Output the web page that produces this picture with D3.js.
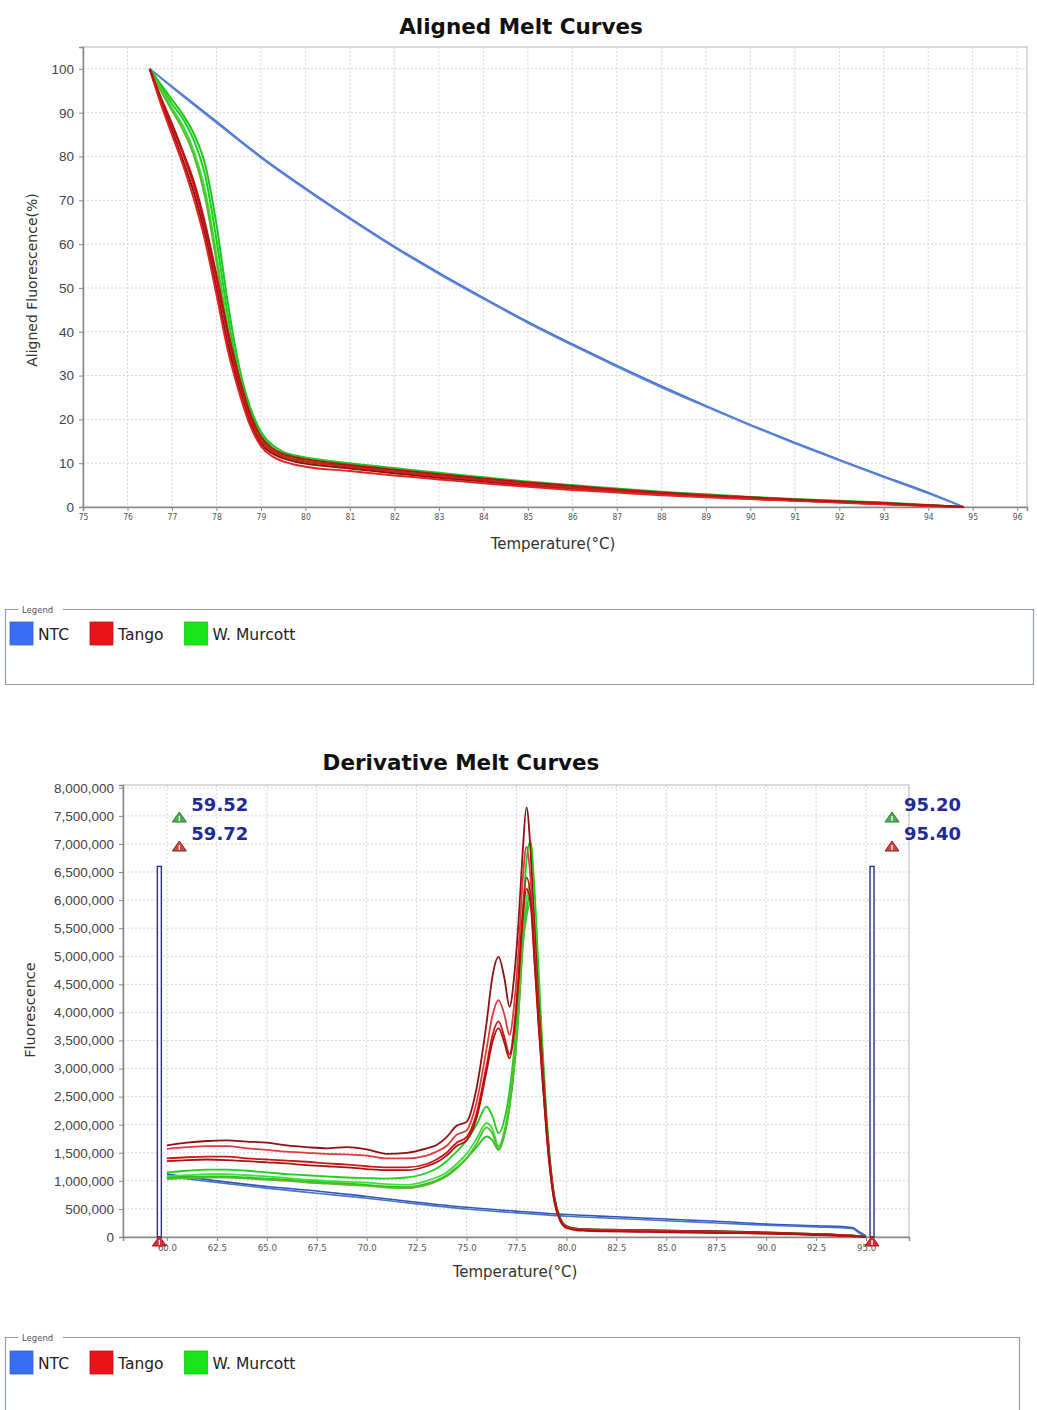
<!DOCTYPE html>
<html><head><meta charset="utf-8">
<script src="https://cdn.jsdelivr.net/npm/d3@7"></script>
<style>
body{margin:0;background:#fff;}
svg{display:block;font-family:"DejaVu Sans",Verdana,sans-serif;}
.grid line{stroke:#d6d6d6;stroke-dasharray:2,2;stroke-width:1;}
</style></head><body>
<svg id="c" width="1037" height="1410"></svg>
<script>
// ---------- Aligned melt curves (fluorescence %, per replicate) ----------
const alignedNtcTemps = [76.5, 77, 78, 79, 80, 81, 82, 83, 84, 85, 86, 87, 88, 89, 90, 91, 92, 93, 94, 94.8];
const alignedNtc = [
  [100, 96, 88, 80, 72.8, 66, 59.5, 53.5, 47.8, 42.3, 37.2, 32.3, 27.6, 23.1, 18.8, 14.7, 10.8, 7.0, 3.3, 0],
  [100, 95.8, 87.7, 79.7, 72.5, 65.7, 59.2, 53.2, 47.5, 42.0, 36.9, 32.0, 27.3, 22.9, 18.6, 14.5, 10.6, 6.8, 3.1, 0]
];
const alignedTemps = [76.5, 76.75, 77, 77.25, 77.5, 77.75, 78, 78.25, 78.5, 78.75, 79, 79.25, 79.5, 79.75, 80,
  81, 82, 83, 84, 85, 86, 87, 88, 89, 90, 91, 92, 93, 94, 94.5, 94.8];
const alignedTango = [
  [100, 92.5, 86, 79, 71.5, 62, 50, 37.5, 27.5, 19.5, 14.5, 12.3, 11.1, 10.4, 9.9, 8.8, 7.7, 6.7, 5.8, 4.9, 4.2, 3.5, 2.9, 2.4, 1.9, 1.5, 1.1, 0.7, 0.3, 0.12, 0],
  [100, 93, 87, 80.5, 73, 63.5, 52, 39.5, 29, 20.5, 15.2, 12.8, 11.6, 10.9, 10.4, 9.2, 8.1, 7.1, 6.1, 5.2, 4.4, 3.7, 3.1, 2.5, 2.0, 1.6, 1.2, 0.8, 0.35, 0.15, 0],
  [100, 92, 85, 78, 70, 60.5, 48.5, 36, 26.5, 18.8, 13.9, 11.6, 10.4, 9.7, 9.2, 8.2, 7.2, 6.3, 5.4, 4.6, 3.9, 3.3, 2.7, 2.2, 1.8, 1.4, 1.0, 0.6, 0.25, 0.1, 0],
  [100, 93.5, 87.5, 81, 74, 64.5, 53, 40.5, 30, 21.5, 16, 13.4, 12.1, 11.4, 10.9, 9.6, 8.5, 7.5, 6.5, 5.6, 4.8, 4.0, 3.3, 2.7, 2.2, 1.7, 1.3, 0.9, 0.4, 0.15, 0]
];
const alignedMurcott = [
  [100, 96, 92, 88.5, 83.5, 75.5, 61, 44, 30.5, 22, 16.5, 13.6, 12.0, 11.3, 10.8, 9.6, 8.5, 7.5, 6.5, 5.6, 4.8, 4.0, 3.3, 2.7, 2.2, 1.7, 1.3, 0.9, 0.4, 0.15, 0],
  [100, 95.5, 91, 87, 81, 72, 57.5, 41.5, 29, 21, 15.8, 13.1, 11.6, 10.9, 10.4, 9.2, 8.1, 7.1, 6.2, 5.3, 4.5, 3.8, 3.1, 2.6, 2.1, 1.6, 1.2, 0.8, 0.35, 0.12, 0],
  [100, 96.5, 93, 89.5, 85, 78, 64.5, 47, 32.5, 23, 17.2, 14.2, 12.6, 11.8, 11.3, 10.0, 8.9, 7.8, 6.8, 5.8, 5.0, 4.2, 3.5, 2.9, 2.3, 1.8, 1.4, 1.0, 0.45, 0.18, 0],
  [100, 95, 90.5, 86, 80, 70.5, 56, 40, 28, 20.2, 15.3, 12.7, 11.3, 10.6, 10.1, 8.9, 7.9, 6.9, 6.0, 5.1, 4.3, 3.6, 3.0, 2.4, 1.9, 1.5, 1.1, 0.7, 0.3, 0.1, 0]
];
const alignedXTicks = d3.range(75, 97, 1);
const alignedYTicks = [0, 10, 20, 30, 40, 50, 60, 70, 80, 90, 100];

// ---------- Derivative melt curves (fluorescence, millions) ----------
const derivTemps = [60, 61, 62, 63, 64, 65, 66, 67, 68, 69, 70, 71, 72, 73, 73.5, 74, 74.5, 75, 75.5, 76,
  76.3, 76.6, 76.9, 77.15, 77.4, 77.6, 77.8, 78.0, 78.2, 78.4, 78.6, 78.8, 79.0, 79.2, 79.4, 79.7, 80.0,
  80.5, 81, 82, 84, 86, 88, 90, 92, 93, 94, 94.5, 95];
const derivTango = [
  [1.63, 1.68, 1.71, 1.72, 1.70, 1.68, 1.63, 1.60, 1.58, 1.60, 1.56, 1.48, 1.50, 1.58, 1.64, 1.78, 1.98, 2.05, 2.65, 3.81,
   4.65, 4.99, 4.60, 4.10, 4.70, 5.60, 6.80, 7.65, 6.90, 5.50, 4.20, 3.10, 2.05, 1.25, 0.70, 0.32, 0.19,
   0.15, 0.14, 0.13, 0.12, 0.11, 0.10, 0.08, 0.06, 0.05, 0.03, 0.02, 0.0],
  [1.57, 1.60, 1.62, 1.62, 1.58, 1.55, 1.52, 1.50, 1.48, 1.47, 1.45, 1.40, 1.40, 1.45, 1.52, 1.62, 1.82, 1.90, 2.40, 3.35,
   3.95, 4.22, 3.95, 3.60, 4.20, 5.10, 6.30, 6.95, 6.40, 5.20, 4.00, 2.95, 1.95, 1.20, 0.66, 0.30, 0.18,
   0.14, 0.13, 0.12, 0.11, 0.10, 0.09, 0.07, 0.05, 0.04, 0.03, 0.02, 0.0],
  [1.40, 1.42, 1.43, 1.43, 1.40, 1.38, 1.36, 1.34, 1.31, 1.29, 1.26, 1.24, 1.24, 1.30, 1.38, 1.50, 1.68, 1.78, 2.20, 3.05,
   3.60, 3.84, 3.55, 3.25, 3.80, 4.65, 5.75, 6.40, 6.10, 5.00, 3.85, 2.85, 1.90, 1.15, 0.63, 0.29, 0.17,
   0.13, 0.12, 0.11, 0.10, 0.09, 0.08, 0.07, 0.05, 0.04, 0.02, 0.01, 0.0],
  [1.35, 1.37, 1.38, 1.37, 1.35, 1.33, 1.31, 1.28, 1.26, 1.24, 1.21, 1.19, 1.19, 1.26, 1.33, 1.45, 1.62, 1.72, 2.12, 2.95,
   3.48, 3.72, 3.45, 3.18, 3.70, 4.55, 5.60, 6.20, 5.95, 4.90, 3.80, 2.80, 1.86, 1.12, 0.62, 0.28, 0.16,
   0.12, 0.11, 0.10, 0.09, 0.08, 0.07, 0.06, 0.04, 0.03, 0.02, 0.01, 0.0]
];
const derivMurcott = [
  [1.15, 1.18, 1.20, 1.20, 1.18, 1.15, 1.12, 1.10, 1.08, 1.06, 1.05, 1.04, 1.06, 1.14, 1.22, 1.35, 1.52, 1.72, 2.00, 2.32,
   2.15, 1.85, 2.10, 2.60, 3.40, 4.30, 5.60, 6.70, 7.05, 6.20, 4.80, 3.40, 2.20, 1.30, 0.72, 0.33, 0.20,
   0.15, 0.14, 0.13, 0.12, 0.11, 0.10, 0.08, 0.06, 0.05, 0.03, 0.02, 0.0],
  [1.08, 1.10, 1.12, 1.12, 1.10, 1.08, 1.05, 1.02, 1.00, 0.98, 0.97, 0.94, 0.93, 1.00, 1.06, 1.15, 1.30, 1.48, 1.75, 2.03,
   1.92, 1.62, 1.90, 2.40, 3.15, 4.05, 5.25, 6.00, 6.30, 5.70, 4.50, 3.20, 2.10, 1.25, 0.70, 0.32, 0.19,
   0.14, 0.13, 0.12, 0.11, 0.10, 0.09, 0.07, 0.05, 0.04, 0.03, 0.02, 0.0],
  [1.05, 1.07, 1.08, 1.08, 1.06, 1.04, 1.02, 0.99, 0.97, 0.95, 0.93, 0.90, 0.89, 0.95, 1.01, 1.10, 1.24, 1.40, 1.60, 1.79,
   1.72, 1.55, 1.82, 2.30, 3.05, 3.95, 5.10, 5.80, 6.10, 5.55, 4.40, 3.15, 2.05, 1.22, 0.68, 0.31, 0.18,
   0.14, 0.13, 0.12, 0.11, 0.10, 0.09, 0.07, 0.05, 0.04, 0.03, 0.02, 0.0],
  [1.03, 1.05, 1.06, 1.06, 1.04, 1.02, 1.00, 0.97, 0.95, 0.93, 0.91, 0.88, 0.87, 0.93, 0.99, 1.08, 1.22, 1.40, 1.66, 1.95,
   1.84, 1.58, 1.85, 2.35, 3.10, 4.00, 5.15, 5.70, 5.95, 5.45, 4.35, 3.12, 2.02, 1.20, 0.67, 0.30, 0.18,
   0.13, 0.12, 0.11, 0.10, 0.09, 0.08, 0.06, 0.05, 0.04, 0.02, 0.01, 0.0]
];
const derivNtcTemps = [60, 62.5, 65, 67.5, 70, 72.5, 75, 77.5, 80, 82.5, 85, 87.5, 90, 92.5, 94.3, 94.7, 95.0];
const derivNtc = [
  [1.12, 1.00, 0.90, 0.82, 0.72, 0.62, 0.53, 0.46, 0.40, 0.36, 0.32, 0.28, 0.23, 0.20, 0.17, 0.08, 0.02],
  [1.08, 0.97, 0.87, 0.78, 0.69, 0.59, 0.50, 0.43, 0.37, 0.33, 0.29, 0.25, 0.21, 0.18, 0.15, 0.06, 0.01]
];
const derivXTicks = [60, 62.5, 65, 67.5, 70, 72.5, 75, 77.5, 80, 82.5, 85, 87.5, 90, 92.5, 95];
const derivYTicks = d3.range(0, 8.5, 0.5);
const markerStart = [59.52, 59.72];
const markerEnd = [95.20, 95.40];
const markerTop = 6.6;

const legendNames = ["NTC", "Tango", "W. Murcott"];
const legendColors = ["#3a6ff5", "#e8141a", "#18e418"];

const svg = d3.select("#c");

function drawAxes(x, y, xTicks, yTicks, xFmt, yFmt, xFont, yFont) {
  const [x0, x1] = x.range(), [y0, y1] = y.range();
  const g = svg.append("g");
  g.append("g").attr("class", "grid").selectAll("line").data(xTicks).join("line")
    .attr("x1", d => x(d)).attr("x2", d => x(d)).attr("y1", y1).attr("y2", y0);
  g.append("g").attr("class", "grid").selectAll("line").data(yTicks).join("line")
    .attr("x1", x0).attr("x2", x1).attr("y1", d => y(d)).attr("y2", d => y(d));
  g.append("rect").attr("x", x0).attr("y", y1).attr("width", x1 - x0).attr("height", y0 - y1)
    .attr("fill", "none").attr("stroke", "#b8b8b8");
  const ax = g.append("g").attr("transform", `translate(0,${y0})`)
    .call(d3.axisBottom(x).tickValues(xTicks).tickFormat(xFmt).tickSize(4).tickPadding(3));
  ax.selectAll("text").attr("font-size", xFont).attr("fill", "#555")
    .attr("font-family", "'DejaVu Sans Condensed','DejaVu Sans',sans-serif");
  const ay = g.append("g").attr("transform", `translate(${x0},0)`)
    .call(d3.axisLeft(y).tickValues(yTicks).tickFormat(yFmt).tickSize(4).tickPadding(5));
  ay.selectAll("text").attr("font-size", yFont).attr("fill", "#444");
  [ax, ay].forEach(a => {
    a.select(".domain").attr("stroke", "#8a8a8a").attr("stroke-width", 1.5);
    a.selectAll(".tick line").attr("stroke", "#8a8a8a");
  });
  return g;
}

function drawLines(x, y, temps, series, colors, width) {
  const line = d3.line().x((d, i) => x(temps[i])).y(d => y(d)).curve(d3.curveMonotoneX);
  svg.append("g").selectAll("path").data(series).join("path")
    .attr("d", line).attr("fill", "none")
    .attr("stroke", (d, i) => colors[i % colors.length])
    .attr("stroke-width", width).attr("stroke-linejoin", "round");
}

function drawLegend(x0, y0, x1, y1, swY) {
  const g = svg.append("g");
  g.append("path")
    .attr("d", `M18,${y0} H${x0} V${y1} H${x1} V${y0} H63`)
    .attr("fill", "none").attr("stroke", "#8e9aa6").attr("stroke-width", 1.2);
  g.append("text").attr("x", 22).attr("y", y0 + 3).attr("font-size", 8.5).attr("fill", "#4a5560").text("Legend");
  let cx = 10;
  legendNames.forEach((name, i) => {
    g.append("rect").attr("x", cx).attr("y", swY).attr("width", 23).attr("height", 23)
      .attr("fill", legendColors[i]).attr("stroke", d3.color(legendColors[i]).darker(0.4)).attr("stroke-width", 0.8);
    const t = g.append("text").attr("x", cx + 28).attr("y", swY + 18).attr("font-size", 15.5)
      .attr("fill", "#222").text(name);
    cx = cx + 28 + t.node().getComputedTextLength() + 21;
  });
}

// ---------- Top: aligned melt curves ----------
const xA = d3.scaleLinear().domain([75, 96.22]).range([83, 1027]);
const yA = d3.scaleLinear().domain([0, 105]).range([507, 47]);
drawAxes(xA, yA, alignedXTicks, alignedYTicks, d3.format("d"), d3.format("d"), 8.5, 13.5);
svg.append("text").attr("x", 521).attr("y", 34).attr("text-anchor", "middle")
  .attr("font-size", 21.5).attr("font-weight", "bold").attr("fill", "#111").text("Aligned Melt Curves");
svg.append("text").attr("x", 553).attr("y", 549).attr("text-anchor", "middle")
  .attr("font-size", 15).attr("fill", "#333").text("Temperature(°C)");
svg.append("text").attr("transform", "translate(37,280) rotate(-90)").attr("text-anchor", "middle")
  .attr("font-size", 14).attr("fill", "#333").text("Aligned Fluorescence(%)");

drawLines(xA, yA, alignedNtcTemps, alignedNtc, ["#3f6fd2", "#5b84dc"], 1.6);
drawLines(xA, yA, alignedTemps, alignedMurcott, ["#1ccf1c", "#34e334", "#22c422", "#5cb82e"], 2);
drawLines(xA, yA, alignedTemps, alignedTango, ["#8e1212", "#d41a1a", "#e22424", "#b41414"], 2);

drawLegend(5.5, 609.5, 1033.5, 684.5, 622);

// ---------- Bottom: derivative melt curves ----------
const xD = d3.scaleLinear().domain([57.8, 97.15]).range([123, 909]);
const yD = d3.scaleLinear().domain([0, 8.05]).range([1237, 785]);
drawAxes(xD, yD, derivXTicks, derivYTicks, d3.format(".1f"), d => d3.format(",")(Math.round(d * 1e6)), 9.5, 13.5);
svg.append("text").attr("x", 461).attr("y", 770).attr("text-anchor", "middle")
  .attr("font-size", 21.5).attr("font-weight", "bold").attr("fill", "#111").text("Derivative Melt Curves");
svg.append("text").attr("x", 515).attr("y", 1277).attr("text-anchor", "middle")
  .attr("font-size", 15).attr("fill", "#333").text("Temperature(°C)");
svg.append("text").attr("transform", "translate(35,1010) rotate(-90)").attr("text-anchor", "middle")
  .attr("font-size", 14.5).attr("fill", "#333").text("Fluorescence");

drawLines(xD, yD, derivNtcTemps, derivNtc, ["#2f56b4", "#4a72cc"], 1.6);
drawLines(xD, yD, derivTemps, derivMurcott, ["#1ccf1c", "#34e334", "#22c422", "#5cb82e"], 1.8);
drawLines(xD, yD, derivTemps, derivTango, ["#8e1212", "#e03a3a", "#c81818", "#b01010"], 1.8);

// melt-region boundary bars and their handles
function tri(g, cx, cy, fill, stroke) {
  g.append("path").attr("d", `M${cx - 7},${cy + 5} L${cx},${cy - 5} L${cx + 7},${cy + 5} Z`)
    .attr("fill", fill).attr("stroke", stroke).attr("stroke-width", 1);
  g.append("line").attr("x1", cx).attr("x2", cx).attr("y1", cy - 1).attr("y2", cy + 4)
    .attr("stroke", "#fff").attr("stroke-width", 1.3);
}
const mk = svg.append("g");
[markerStart, markerEnd].forEach(pair => {
  const xa = xD(pair[0]), xb = xD(pair[1]);
  mk.append("rect").attr("x", xa).attr("y", yD(markerTop)).attr("width", xb - xa).attr("height", yD(0) - yD(markerTop))
    .attr("fill", "#fff").attr("stroke", "#2a2f84").attr("stroke-width", 1.4);
  tri(mk, (xa + xb) / 2, yD(0) + 4, "#d83030", "#a01818");
  const tx = xb + 18;
  tri(mk, tx, 817, "#4caf50", "#2c7a30");
  tri(mk, tx, 846, "#c84848", "#9a2020");
  mk.append("text").attr("x", tx + 12).attr("y", 811).attr("font-size", 18).attr("font-weight", "bold")
    .attr("fill", "#1f2a99").text(pair[0].toFixed(2));
  mk.append("text").attr("x", tx + 12).attr("y", 840).attr("font-size", 18).attr("font-weight", "bold")
    .attr("fill", "#1f2a99").text(pair[1].toFixed(2));
});

drawLegend(5.5, 1337.5, 1019.5, 1420, 1351);
</script></body></html>
